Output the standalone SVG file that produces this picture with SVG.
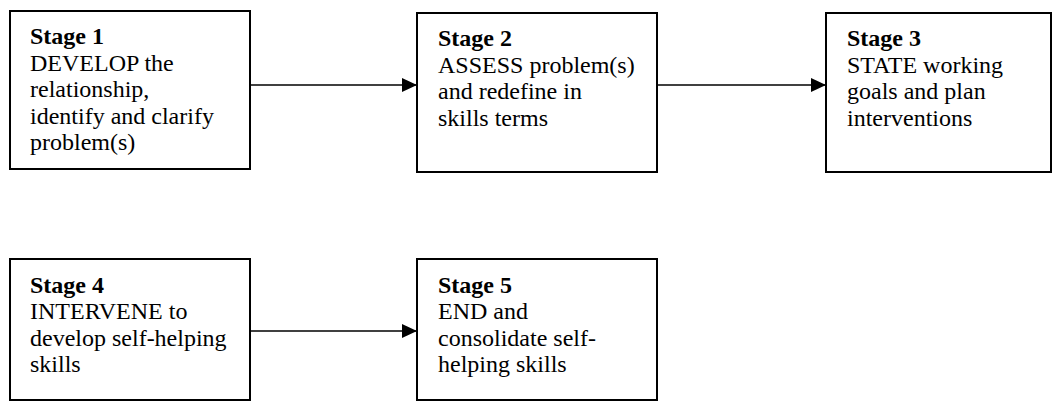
<svg xmlns="http://www.w3.org/2000/svg" width="1052" height="415" viewBox="0 0 1052 415">
<defs>
<style>
.box{fill:#fff;stroke:#000;stroke-width:2}
.t{font-family:"Liberation Serif","Times New Roman",serif;font-size:24px;fill:#000}
.b{font-weight:bold}
.c{stroke:#000;stroke-width:1.6;fill:none}
</style>
<marker id="ah" markerWidth="15" markerHeight="14" refX="15" refY="7" orient="auto" markerUnits="userSpaceOnUse">
<path d="M0,0 L15,7 L0,14 Z" fill="#000"/>
</marker>
</defs>
<g id="connectors">
<line class="c" x1="250" y1="85" x2="417" y2="85" marker-end="url(#ah)"/>
<line class="c" x1="657" y1="85" x2="826" y2="85" marker-end="url(#ah)"/>
<line class="c" x1="250" y1="331" x2="417" y2="331" marker-end="url(#ah)"/>
</g>
<g id="stage1">
<rect class="box" x="10" y="11" width="240" height="158"/>
<text class="t"><tspan class="b" x="30" y="44">Stage 1</tspan><tspan x="30" y="70.5">DEVELOP the</tspan><tspan x="30" y="97">relationship,</tspan><tspan x="30" y="123.5">identify and clarify</tspan><tspan x="30" y="150">problem(s)</tspan></text>
</g>
<g id="stage2">
<rect class="box" x="417" y="13" width="240" height="159"/>
<text class="t"><tspan class="b" x="438" y="46">Stage 2</tspan><tspan x="438" y="72.5">ASSESS problem(s)</tspan><tspan x="438" y="99">and redefine in</tspan><tspan x="438" y="125.5">skills terms</tspan></text>
</g>
<g id="stage3">
<rect class="box" x="826" y="13" width="225" height="159"/>
<text class="t"><tspan class="b" x="847" y="46">Stage 3</tspan><tspan x="847" y="72.5">STATE working</tspan><tspan x="847" y="99">goals and plan</tspan><tspan x="847" y="125.5">interventions</tspan></text>
</g>
<g id="stage4">
<rect class="box" x="10" y="259" width="240" height="141"/>
<text class="t"><tspan class="b" x="30" y="292.5">Stage 4</tspan><tspan x="30" y="319">INTERVENE to</tspan><tspan x="30" y="345.5">develop self-helping</tspan><tspan x="30" y="372">skills</tspan></text>
</g>
<g id="stage5">
<rect class="box" x="417" y="259" width="240" height="141"/>
<text class="t"><tspan class="b" x="438" y="292.5">Stage 5</tspan><tspan x="438" y="319">END and</tspan><tspan x="438" y="345.5">consolidate self-</tspan><tspan x="438" y="372">helping skills</tspan></text>
</g>
</svg>
